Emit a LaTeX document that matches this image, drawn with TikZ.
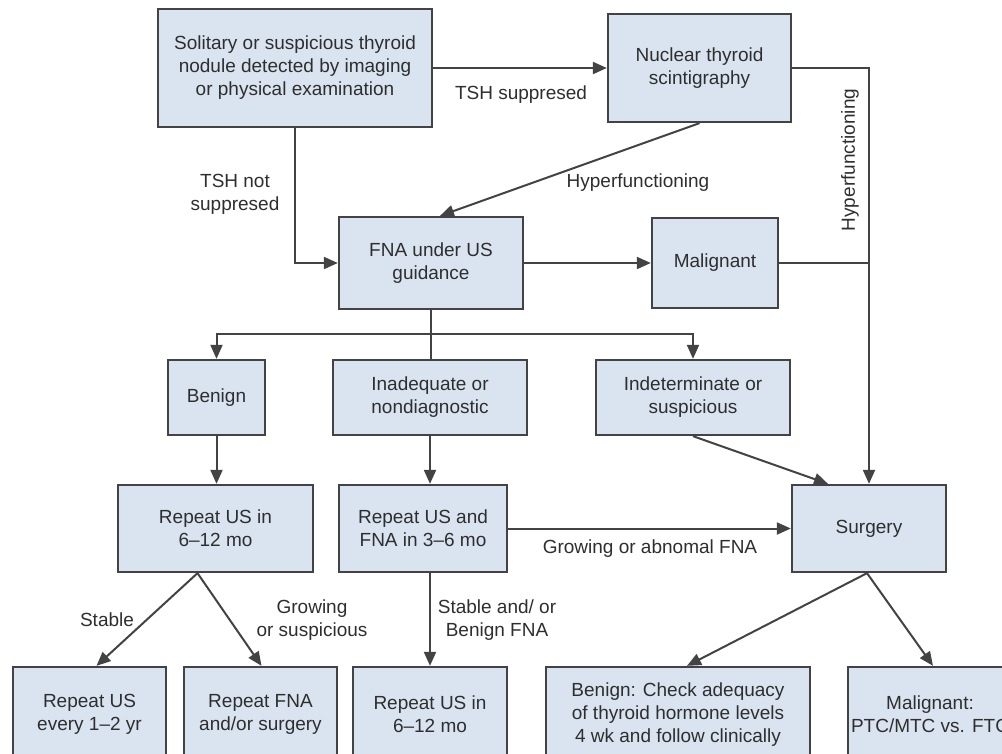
\documentclass[tikz,border=0pt]{standalone}
\usepackage{fontspec}
\setmainfont{Liberation Sans}
\usetikzlibrary{arrows.meta}
\definecolor{boxfill}{HTML}{DAE4F1}
\definecolor{boxline}{HTML}{434343}
\definecolor{ink}{HTML}{2E2E2E}
\begin{document}
\begin{tikzpicture}[x=1pt,y=-1pt,
  every node/.style={font=\fontsize{19}{23}\selectfont, text=ink},
  flowbox/.style={draw=boxline, fill=boxfill, line width=2.3pt, inner sep=0pt, align=center},
  conn/.style={draw=boxline, line width=2pt},
  arr/.style={conn, -{Triangle[length=14pt,width=12pt]}},
  lbl/.style={align=center, inner sep=0pt}]
\useasboundingbox (0,0) rectangle (1002,753);
\clip (0,0) rectangle (1002,753);

% boxes
\node[flowbox, minimum width=274pt, minimum height=118pt] (sol) at (295,68)
  {Solitary or suspicious thyroid\\nodule detected by imaging\\or physical examination};
\node[flowbox, minimum width=183pt, minimum height=108pt] (nuc) at (699.5,68)
  {Nuclear thyroid\\scintigraphy};
\node[flowbox, minimum width=184pt, minimum height=92pt] (fna) at (431,263)
  {FNA under US\\guidance};
\node[flowbox, minimum width=126pt, minimum height=90pt] (mal) at (715,263) {Malignant};
\node[flowbox, minimum width=97pt, minimum height=75pt] (ben) at (216.5,397.5) {Benign};
\node[flowbox, minimum width=194pt, minimum height=75pt] (inad) at (430,397.5)
  {Inadequate or\\nondiagnostic};
\node[flowbox, minimum width=194pt, minimum height=75pt] (ind) at (693,397.5)
  {Indeterminate or\\suspicious};
\node[flowbox, minimum width=195pt, minimum height=87pt] (rusa) at (215.5,528.5)
  {Repeat US in\\6–12 mo};
\node[flowbox, minimum width=168pt, minimum height=87pt] (rusfna) at (423,528.5)
  {Repeat US and\\FNA in 3–6 mo};
\node[flowbox, minimum width=154pt, minimum height=87pt] (surg) at (869,528.5) {Surgery};
\node[flowbox, minimum width=153pt, minimum height=95pt] (every) at (89.5,714.5)
  {Repeat US\\every 1–2 yr};
\node[flowbox, minimum width=153pt, minimum height=95pt] (refna) at (260.5,714.5)
  {Repeat FNA\\and/or surgery};
\node[flowbox, minimum width=154pt, minimum height=95pt] (rusb) at (430,714.5)
  {Repeat US in\\6–12 mo};
\node[flowbox, minimum width=264pt, minimum height=95pt] (bencheck) at (678,714.5)
  {Benign: Check adequacy\\of thyroid hormone levels\\4 wk and follow clinically};
\node[flowbox, minimum width=164pt, minimum height=95pt] (malig) at (930,714.5)
  {Malignant:\\PTC/MTC vs. FTC};

% connectors
\draw[arr] (sol.east) -- (nuc.west);
\draw[arr] (sol.south) |- (fna.west);
\draw[arr] (nuc.south) -- ([xshift=9pt]fna.north);
\draw[arr] (nuc.east) -| (surg.north);
\draw[arr] (fna.east) -- (mal.west);
\draw[conn] (mal.east) -- (mal.east -| surg.north);
\coordinate (split) at ([yshift=-24pt]fna.south);
\draw[conn] (fna.south) -- (fna.south |- inad.north);
\draw[arr] (split) -| (ben.north);
\draw[arr] (split) -| (ind.north);
\draw[arr] (ben.south) -- (ben.south |- rusa.north);
\draw[arr] (inad.south) -- (inad.south |- rusfna.north);
\draw[arr] (ind.south) -- ([xshift=-41pt]surg.north);
\draw[arr] (rusfna.east |- surg.west) -- (surg.west);
\draw[arr] (rusb.north |- rusfna.south) -- (rusb.north);
\draw[arr] ([xshift=-18pt]rusa.south) -- ([xshift=7pt]every.north);
\draw[arr] ([xshift=-18pt]rusa.south) -- ([xshift=1pt]refna.north);
\draw[arr] ([xshift=-2pt]surg.south) -- ([xshift=9pt]bencheck.north);
\draw[arr] ([xshift=-2pt]surg.south) -- ([xshift=3pt]malig.north);

% connector labels
\node[lbl] (lsup) at (521,95) {TSH suppresed};
\node[lbl] (lnot) at (235,194) {TSH not\\suppresed};
\node[lbl] (lhyp) at (638,183) {Hyperfunctioning};
\node[lbl, rotate=90] (lhypv) at (850,160) {Hyperfunctioning};
\node[lbl] (lgrow) at (650,549) {Growing or abnomal FNA};
\node[lbl] (lstab) at (107,620) {Stable};
\node[lbl] (lsusp) at (312,620) {Growing\\or suspicious};
\node[lbl] (lben) at (497,620) {Stable and/ or\\Benign FNA};
\end{tikzpicture}
\end{document}
